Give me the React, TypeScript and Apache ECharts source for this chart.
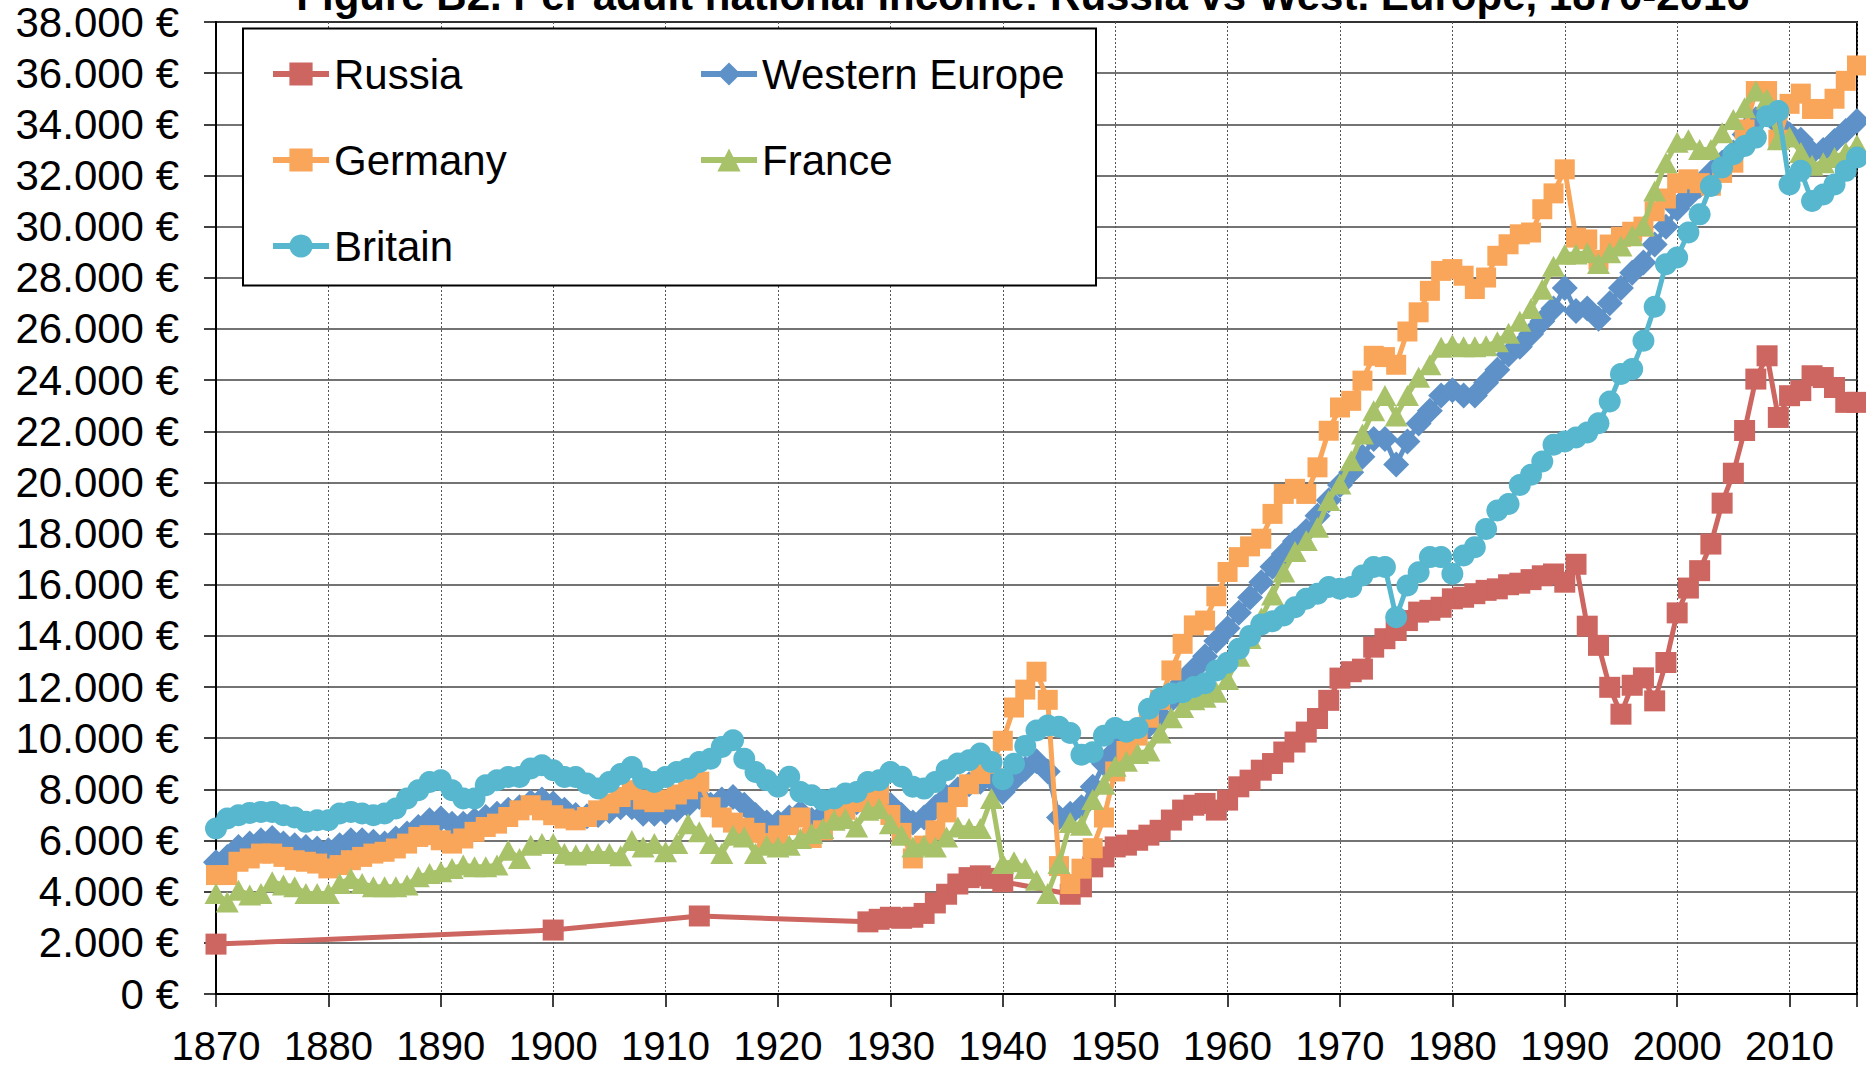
import React, { useEffect, useRef } from 'react';
import * as echarts from 'echarts';

const TITLE = 'Figure B2. Per adult national income: Russia vs West. Europe, 1870-2016';
const FIRST_YEAR = 1870;
const X_MIN = 1870;
const X_MAX = 2016;
const Y_MAX = 38000;
const Y_STEP = 2000;

// Russia: sparse years before 1946
const RUSSIA_YEARS = [
  1870, 1900, 1913,
  1928, 1929, 1930, 1931, 1932, 1933, 1934, 1935, 1936, 1937, 1938, 1939, 1940,
  1946, 1947, 1948, 1949,
  1950, 1951, 1952, 1953, 1954, 1955, 1956, 1957, 1958, 1959,
  1960, 1961, 1962, 1963, 1964, 1965, 1966, 1967, 1968, 1969,
  1970, 1971, 1972, 1973, 1974, 1975, 1976, 1977, 1978, 1979,
  1980, 1981, 1982, 1983, 1984, 1985, 1986, 1987, 1988, 1989,
  1990, 1991, 1992, 1993, 1994, 1995, 1996, 1997, 1998, 1999,
  2000, 2001, 2002, 2003, 2004, 2005, 2006, 2007, 2008, 2009,
  2010, 2011, 2012, 2013, 2014, 2015, 2016,
];
const RUSSIA = [
  1950, 2500, 3050,
  2820, 2920, 3000, 2960, 3000, 3150, 3560, 3900, 4300, 4550, 4620, 4520, 4390,
  3900, 4190, 4970, 5360,
  5750, 5820, 6010, 6210, 6400, 6800, 7190, 7380, 7450, 7190,
  7580, 8100, 8360, 8750, 9010, 9460, 9850, 10240, 10770, 11480,
  12350, 12600, 12700, 13560, 13890, 14210, 14600, 14930, 15000, 15120,
  15450, 15510, 15650, 15780, 15840, 16000, 16060, 16200, 16350, 16420,
  16100, 16800, 14380, 13630, 11990, 10940, 12070, 12360, 11460, 12960,
  14900, 15870, 16550, 17590, 19190, 20360, 22030, 24040, 24950, 22540,
  23390, 23590, 24170, 24100, 23710, 23130, 23130,
];

// Yearly series 1870..2016 (one row per decade)
const WESTERN_EUROPE = [
  5150, 5360, 5750, 5880, 6010, 6100, 5880, 5820, 5750, 5690,
  5620, 5820, 6010, 6010, 5950, 5880, 6080, 6270, 6530, 6790,
  6860, 6660, 6660, 6790, 6920, 7050, 7200, 7300, 7500, 7600,
  7450, 7200, 7000, 6950, 7000, 7150, 7300, 7300, 7050, 7050,
  7100, 7200, 7400, 7700, 7400, 7600, 7700, 7400, 7000, 6700,
  6700, 6900, 7100, 6800, 7000, 7200, 7300, 7500, 7700, 7700,
  7400, 7000, 6700, 6900, 7300, 7700, 8000, 8200, 8300, 8400,
  7900, 8400, 8800, 9100, 8700, 6900, 7050, 7300, 8100, 9000,
  9500, 9900, 10200, 10500, 10900, 11500, 12200, 12700, 13200, 13800,
  14300, 14900, 15500, 16100, 16700, 17200, 17700, 18100, 18700, 19300,
  19900, 20400, 21000, 21700, 21700, 20700, 21600, 22300, 22800, 23400,
  23600, 23400, 23400, 23900, 24400, 25000, 25300, 25800, 26300, 26800,
  27600, 26700, 26800, 26400, 27000, 27600, 28200, 28600, 29300, 30000,
  30700, 31200, 31600, 32100, 32500, 32900, 33600, 34200, 34500, 34000,
  33600, 33400, 32900, 33000, 33350, 33740, 34130,
];

const GERMANY = [
  4650, 4650, 5170, 5300, 5490, 5490, 5360, 5230, 5170, 5100,
  4910, 5040, 5230, 5360, 5490, 5560, 5690, 5880, 6140, 6210,
  6010, 5880, 6080, 6340, 6530, 6660, 6920, 7180, 7380, 7180,
  6990, 6860, 6790, 6920, 7180, 7450, 7700, 7970, 7600, 7500,
  7600, 7800, 8000, 8300, 7300, 6900, 6700, 6500, 6300, 5900,
  6200, 6600, 6900, 6100, 6400, 7000, 7200, 7500, 7700, 7800,
  7000, 6300, 5300, 5800, 6400, 7100, 7700, 8200, 8600, 9000,
  9900, 11200, 11900, 12600, 11500, 5000, 4300, 4900, 5700, 6900,
  8700, 9500, 10100, 10800, 11500, 12650, 13690, 14410, 14600, 15550,
  16500, 17080, 17500, 17800, 18770, 19550, 19750, 19550, 20590, 22020,
  22930, 23190, 23980, 24950, 24900, 24600, 25900, 26650, 27490, 28270,
  28340, 28080, 27560, 28010, 28860, 29310, 29700, 29770, 30680, 31300,
  32240, 29570, 29500, 28700, 29300, 29600, 29800, 30000, 30600, 31100,
  31700, 31850, 31700, 31600, 32100, 32500, 33800, 35300, 35300, 33400,
  34800, 35200, 34600, 34600, 35000, 35700, 36300,
];

const FRANCE = [
  3930, 3600, 4060, 3870, 3930, 4390, 4260, 4190, 3930, 3930,
  3930, 4320, 4520, 4320, 4190, 4190, 4190, 4260, 4580, 4710,
  4780, 4910, 5040, 4970, 4970, 5040, 5620, 5300, 5820, 5880,
  5880, 5490, 5430, 5490, 5490, 5490, 5400, 6000, 5750, 5880,
  5560, 5880, 6660, 6340, 5880, 5490, 6210, 6140, 5490, 5820,
  5750, 5820, 6080, 6270, 6470, 6790, 6860, 6530, 7180, 7250,
  6660, 6210, 5750, 5820, 5750, 6140, 6530, 6470, 6470, 7640,
  5100, 5170, 4910, 4450, 3930, 5100, 6700, 6600, 7600, 8200,
  8900, 9100, 9400, 9500, 10200, 10800, 11200, 11500, 11600, 11800,
  12300, 13200, 13900, 14700, 15600, 16500, 17300, 17730, 18250, 19290,
  19940, 20850, 21890, 22800, 23400, 22600, 23400, 24110, 24600, 25280,
  25380, 25300, 25300, 25340, 25500, 25830, 26300, 26800, 27550, 28450,
  28920, 28930, 28980, 28560, 28980, 29240, 29640, 30030, 31390, 32500,
  33300, 33400, 33020, 33020, 33670, 34190, 34650, 35300, 34980, 33400,
  33500, 32900, 32400, 32500, 32700, 32900, 33200,
];

const BRITAIN = [
  6470, 6860, 6990, 7080, 7120, 7120, 6990, 6900, 6730, 6790,
  6790, 7055, 7120, 7055, 6990, 7055, 7250, 7640, 7966, 8290,
  8356, 7966, 7640, 7640, 8160, 8356, 8486, 8486, 8812, 8942,
  8747, 8486, 8486, 8226, 8031, 8290, 8600, 8877, 8420, 8290,
  8486, 8680, 8810, 9070, 9200, 9660, 9920, 9200, 8680, 8360,
  8100, 8490, 7900, 7770, 7575, 7640, 7840, 7900, 8290, 8360,
  8680, 8490, 8100, 8030, 8290, 8750, 9010, 9140, 9400, 9070,
  8400, 9000, 9700, 10300, 10500, 10450, 10200, 9350, 9450, 10100,
  10400, 10250, 10400, 11150, 11550, 11750, 11800, 12000, 12150, 12650,
  12950, 13500, 14000, 14450, 14570, 14800, 15120, 15450, 15650, 15910,
  15840, 15910, 16360, 16690, 16690, 14730, 15970, 16490, 17080, 17080,
  16430, 17140, 17470, 18180, 18900, 19160, 19900, 20300, 20820, 21470,
  21600, 21760, 21950, 22310, 23160, 24240, 24430, 25540, 26870, 28530,
  28790, 29770, 30480, 31590, 32310, 32830, 33150, 33480, 34320, 34520,
  31650, 32180, 31000, 31260, 31650, 32180, 32700,
];

const FONT = 'Arial, "Liberation Sans", sans-serif';

const COLORS = {
  russia: '#CD6660',
  we: '#5D91C7',
  germany: '#F9A65A',
  france: '#A8C26A',
  britain: '#56B7CF',
};

const yearly = (vals: number[]) => vals.map((v, i) => [FIRST_YEAR + i, v]);
const paired = (years: number[], vals: number[]) => vals.map((v, i) => [years[i], v]);

const euro = (v: number) => {
  if (v === 0) return '0 €';
  const th = Math.floor(v / 1000);
  const rest = String(v % 1000).padStart(3, '0');
  return `${th}.${rest} €`;
};

function makeSeries(name: string, data: number[][], color: string, symbol: string, size: any, z: number) {
  return {
    name,
    type: 'line',
    data,
    symbol,
    symbolSize: size,
    showAllSymbol: true,
    z,
    lineStyle: { width: 5, color },
    itemStyle: { color },
    emphasis: { disabled: true },
    animation: false,
  };
}

export default function App() {
  const ref = useRef<HTMLDivElement>(null);

  useEffect(() => {
    document.body.style.margin = '0';
    document.body.style.overflow = 'hidden';
    if (!ref.current) return;
    const chart = echarts.init(ref.current, undefined, { renderer: 'svg' });

    const legendCommon = {
      orient: 'vertical',
      top: 53,
      padding: 0,
      itemWidth: 56,
      itemHeight: 29,
      itemGap: 44,
      selectedMode: false,
      z: 20,
      lineStyle: { width: 6 },
      textStyle: { fontSize: 42, color: '#000', fontFamily: FONT },
    };

    const option: any = {
      animation: false,
      backgroundColor: '#fff',
      textStyle: { fontFamily: FONT },
      grid: {
        left: 216,
        right: 9,
        top: 22,
        bottom: 75,
        show: true,
        borderColor: '#000',
        borderWidth: 2,
        containLabel: false,
        outerBoundsMode: 'none',
      },
      legend: [
        { ...legendCommon, left: 270, data: ['Russia', 'Germany', 'Britain'] },
        { ...legendCommon, left: 698, data: ['Western Europe', 'France'] },
      ],
      graphic: [
        {
          type: 'rect',
          z: 10,
          shape: { x: 243, y: 28.5, width: 853, height: 257 },
          style: { fill: '#fff', stroke: '#000', lineWidth: 2 },
        },
        {
          type: 'text',
          z: 30,
          x: 1023,
          y: -5,
          style: {
            text: TITLE,
            font: `bold 42px ${FONT}`,
            fill: '#000',
            align: 'center',
            verticalAlign: 'middle',
            textAlign: 'center',
            textVerticalAlign: 'middle',
          },
        },
      ],
      xAxis: {
        type: 'value',
        min: X_MIN,
        max: X_MAX,
        interval: 10,
        axisLine: { show: true, onZero: false, lineStyle: { color: '#000', width: 2 } },
        axisTick: { show: true, length: 13, lineStyle: { color: '#000', width: 1.5 } },
        axisLabel: {
          fontSize: 40,
          color: '#000',
          fontFamily: FONT,
          margin: 32,
          formatter: (v: number) => (v % 10 === 0 ? String(v) : ''),
        },
        splitLine: { show: true, lineStyle: { color: '#555', width: 1, type: [2, 2] } },
      },
      yAxis: {
        type: 'value',
        min: 0,
        max: Y_MAX,
        interval: Y_STEP,
        axisLine: { show: true, lineStyle: { color: '#000', width: 2 } },
        axisTick: { show: true, length: 12, lineStyle: { color: '#000', width: 1.5 } },
        axisLabel: {
          fontSize: 42,
          color: '#000',
          fontFamily: FONT,
          margin: 37,
          formatter: euro,
        },
        splitLine: { show: true, lineStyle: { color: '#444', width: 1.5 } },
      },
      series: [
        makeSeries('Russia', paired(RUSSIA_YEARS, RUSSIA), COLORS.russia, 'rect', 21, 2),
        makeSeries('Western Europe', yearly(WESTERN_EUROPE), COLORS.we, 'diamond', 26, 3),
        makeSeries('Germany', yearly(GERMANY), COLORS.germany, 'rect', 20, 4),
        makeSeries('France', yearly(FRANCE), COLORS.france, 'triangle', [23, 21], 5),
        makeSeries('Britain', yearly(BRITAIN), COLORS.britain, 'circle', 22, 6),
      ],
    };

    chart.setOption(option);
    return () => chart.dispose();
  }, []);

  return <div ref={ref} style={{ width: 1866, height: 1069 }} />;
}
